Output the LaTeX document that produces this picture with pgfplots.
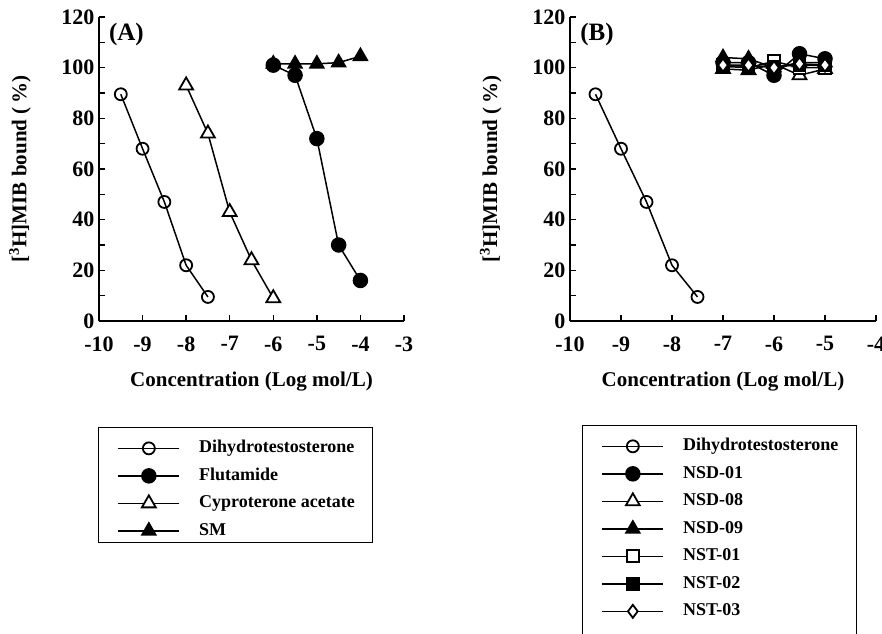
\documentclass[border=0pt]{standalone}
\usepackage{fontspec}
\setmainfont{Liberation Serif}
\usepackage{pgfplots}
\pgfplotsset{compat=1.18}
\newcommand{\legimg}[1]{\draw[#1,line width=1.5pt,mark repeat=2,mark phase=2] plot coordinates {(0pt,0pt) (30.5pt,0pt) (61pt,0pt)};}
\newcommand{\lent}[1]{\hspace*{19pt}\makebox[173pt][l]{#1}}
\pgfplotsset{
  panel/.style={
    scale only axis, height=304pt, ymin=0, ymax=120, clip=false,
    axis x line*=bottom, axis y line*=left,
    axis line style={line width=2pt,-},
    tick align=inside, major tick length=6pt, minor tick length=6pt,
    tick style={line width=1.5pt,black},
    ytick={0,20,...,120}, yticklabels={0,20,40,60,80,100,120},
    minor ytick={10,30,...,110},
    ticklabel style={font=\fontsize{22}{26}\selectfont\bfseries},
    xticklabel style={yshift=-12pt},
    yticklabel style={xshift=-1pt},
    every axis x label/.style={at={(axis description cs:0.5,-0.2007)},anchor=center,font=\fontsize{21}{25}\selectfont\bfseries},
    every axis y label/.style={at={(axis description cs:-0.259,0.5)},anchor=center,rotate=90,font=\fontsize{21}{25}\selectfont\bfseries},
    xlabel={Concentration (Log mol/L)},
    ylabel={[\textsuperscript{3}H]MIB bound (\,\%)},
    every axis plot/.append style={line width=1.5pt,black},
    legend cell align=left,
    legend image code/.code={\path (-19pt,0pt); \legimg{#1}},
    legend style={draw=black, line width=1.2pt, inner xsep=0pt, inner ysep=3.25pt,
      row sep=10pt, column sep=0pt, anchor=north west,
      font=\fontsize{18}{20}\selectfont\bfseries,
      nodes={inner sep=0pt, text height=13pt, text depth=4.5pt}},
  },
  ocirc/.style={mark=o, mark size=6pt, mark options={fill=white,solid,line width=1.8pt}},
  fcirc/.style={mark=*, mark size=7pt, mark options={solid}},
  otri/.style={mark=triangle*, mark size=8pt, mark options={fill=white,solid,line width=1.8pt}},
  ftri/.style={mark=triangle*, mark size=8pt, mark options={fill=black,solid}},
  osq/.style={mark=square*, mark size=6pt, mark options={fill=white,solid,line width=1.8pt}},
  fsq/.style={mark=square*, mark size=6pt, mark options={fill=black,solid}},
  odia/.style={mark=diamond*, mark size=6.5pt, mark options={fill=white,solid,line width=1.8pt}},
  lfirst/.style={legend image code/.code={\path (-19pt,16.75pt); \legimg{##1}}},
  llast/.style={legend image code/.code={\path (-19pt,-30pt); \legimg{##1}}},
}
\begin{document}
\begin{tikzpicture}
\path[use as bounding box] (0pt,0pt) rectangle (882pt,633pt);
% Panel A
\begin{axis}[panel, at={(99pt,312pt)}, anchor=south west, width=305pt,
  xmin=-10, xmax=-3, xtick={-10,-9,-8,-7,-6,-5,-4,-3},
  xticklabels={-10,-9,-8,-7,-6,-5,-4,-3},
  legend style={at={(axis description cs:-0.0033,-0.3487)}}]
\addplot[ocirc, lfirst] coordinates {(-9.5,89.5) (-9,68) (-8.5,47) (-8,22) (-7.5,9.5)};
\addlegendentry{\lent{Dihydrotestosterone}}
\addplot[fcirc] coordinates {(-6,101) (-5.5,97) (-5,72) (-4.5,30) (-4,16)};
\addlegendentry{\lent{Flutamide}}
\addplot[otri] coordinates {(-8,93) (-7.5,74) (-7,43) (-6.5,24) (-6,9)};
\addlegendentry{\lent{Cyproterone acetate}}
\addplot[ftri] coordinates {(-6,101.5) (-5.5,101.5) (-5,101.5) (-4.5,102) (-4,104.5)};
\addlegendentry{\lent{SM}}
\node[font=\fontsize{25}{29}\selectfont\bfseries] at (rel axis cs:0.09,0.941) {(A)};
\end{axis}
% Panel B
\begin{axis}[panel, at={(570pt,312pt)}, anchor=south west, width=306pt,
  xmin=-10, xmax=-4, xtick={-10,-9,-8,-7,-6,-5,-4},
  xticklabels={-10,-9,-8,-7,-6,-5,-4},
  legend style={at={(axis description cs:0.0392,-0.342)}}]
\addplot[ocirc, lfirst] coordinates {(-9.5,89.5) (-9,68) (-8.5,47) (-8,22) (-7.5,9.5)};
\addlegendentry{\lent{Dihydrotestosterone}}
\addplot[fcirc] coordinates {(-7,102) (-6.5,102) (-6,97) (-5.5,105.5) (-5,103.5)};
\addlegendentry{\lent{NSD-01}}
\addplot[otri] coordinates {(-7,99.5) (-6.5,99) (-6,101.5) (-5.5,97) (-5,99.5)};
\addlegendentry{\lent{NSD-08}}
\addplot[ftri] coordinates {(-7,104) (-6.5,103.5) (-6,100) (-5.5,102) (-5,102)};
\addlegendentry{\lent{NSD-09}}
\addplot[osq] coordinates {(-7,100.5) (-6.5,100) (-6,102.5) (-5.5,100) (-5,100)};
\addlegendentry{\lent{NST-01}}
\addplot[fsq] coordinates {(-7,101) (-6.5,100.5) (-6,100.5) (-5.5,101) (-5,101)};
\addlegendentry{\lent{NST-02}}
\addplot[odia, llast] coordinates {(-7,101) (-6.5,101) (-6,100) (-5.5,101.5) (-5,101)};
\addlegendentry{\lent{NST-03}}
\node[font=\fontsize{25}{29}\selectfont\bfseries] at (rel axis cs:0.088,0.941) {(B)};
\end{axis}
\end{tikzpicture}
\end{document}
